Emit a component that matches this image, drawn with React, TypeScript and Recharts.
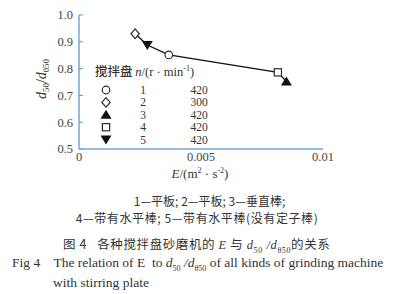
import { LineChart, Line, XAxis, YAxis } from "recharts";

const energy = [0.0023, 0.0028, 0.00368, 0.00815, 0.0085];
const ratio = [0.93, 0.888, 0.851, 0.786, 0.752];
const pointPlate = ["2", "5", "1", "4", "3"];

const xTicks = [0, 0.005, 0.01];
const yTicks = [0.5, 0.6, 0.7, 0.8, 0.9, 1.0];

const legendPlate = ["1", "2", "3", "4", "5"];
const legendSpeed = ["420", "300", "420", "420", "420"];

const data = energy.map((e, i) => ({ e, r: ratio[i], plate: pointPlate[i] }));

const axisBlue = "#6fa8d8";
const ink = "#2b2b2b";
const serif = "'Liberation Serif', 'Noto Sans CJK SC', serif";
const cjk = "'Noto Sans CJK SC', 'Liberation Serif', serif";

function Marker({ type, cx, cy }: { type: string; cx: number; cy: number }) {
  const sw = 1.2;
  if (type === "1") return <circle cx={cx} cy={cy} r={3.8} fill="#fff" stroke={ink} strokeWidth={sw} />;
  if (type === "2")
    return (
      <polygon
        points={`${cx},${cy - 4.8} ${cx + 4.2},${cy} ${cx},${cy + 4.8} ${cx - 4.2},${cy}`}
        fill="#fff"
        stroke={ink}
        strokeWidth={sw}
      />
    );
  if (type === "4") return <rect x={cx - 3.6} y={cy - 3.6} width={7.2} height={7.2} fill="#fff" stroke={ink} strokeWidth={sw} />;
  if (type === "3")
    return <polygon points={`${cx},${cy - 5} ${cx + 5.5},${cy + 4} ${cx - 5.5},${cy + 4}`} fill="#111" />;
  return <polygon points={`${cx - 5.5},${cy - 4} ${cx + 5.5},${cy - 4} ${cx},${cy + 5}`} fill="#111" />;
}

function PointDot(props: any) {
  const { cx, cy, payload } = props;
  return <Marker key={payload.plate} type={payload.plate} cx={cx} cy={cy} />;
}

function YTick(props: any) {
  const { y, payload } = props;
  return (
    <g>
      <line x1={79} x2={83} y1={y} y2={y} stroke={axisBlue} strokeWidth={1.2} />
      <text x={73} y={y} dy="0.35em" textAnchor="end" fontSize={12.5} fill="#444" fontFamily={serif}>
        {payload.value.toFixed(1)}
      </text>
    </g>
  );
}

const captionStyle = {
  position: "absolute",
  whiteSpace: "pre",
  color: "#333",
  lineHeight: 1,
} as const;

export default function App() {
  return (
    <div style={{ position: "absolute", left: 0, top: 0, width: 419, height: 294, background: "#fff", fontFamily: serif }}>
      <LineChart width={419} height={294} data={data} margin={{ top: 15, right: 96, bottom: 125, left: 0 }}>
        <XAxis
          type="number"
          dataKey="e"
          domain={[0, 0.01]}
          ticks={xTicks}
          tickFormatter={(v: number) => (v === 0 ? "0" : String(v))}
          tickLine={false}
          tickSize={0}
          tickMargin={3}
          height={20}
          axisLine={{ stroke: axisBlue, strokeWidth: 1.5 }}
          tick={{ fontSize: 12.5, fill: "#444", fontFamily: serif }}
        />
        <YAxis
          type="number"
          dataKey="r"
          domain={[0.5, 1.0]}
          ticks={yTicks}
          width={79}
          tickLine={false}
          axisLine={{ stroke: axisBlue, strokeWidth: 1.5 }}
          tick={<YTick />}
        />
        <Line
          dataKey="r"
          stroke="#111"
          strokeWidth={1.3}
          dot={<PointDot />}
          activeDot={false}
          isAnimationActive={false}
        />
      </LineChart>

      {/* y axis title */}
      <svg style={{ position: "absolute", left: 0, top: 0 }} width={419} height={294} pointerEvents="none">
        <text transform="translate(46 79) rotate(-90)" textAnchor="middle" fontSize={14} fill="#333" fontFamily={serif}>
          <tspan fontStyle="italic">d</tspan>
          <tspan fontSize={9} dy={3}>50</tspan>
          <tspan dy={-3}>/</tspan>
          <tspan fontStyle="italic">d</tspan>
          <tspan fontSize={9} dy={3}>θ50</tspan>
        </text>

        {/* legend inside plot */}
        <text x={95} y={76} fontSize={12.5} fill="#333" fontFamily={serif}>
          <tspan fontFamily={cjk} fontWeight={500}>搅拌盘 </tspan>
          <tspan fontStyle="italic">n</tspan>
          <tspan>/(r · min</tspan>
          <tspan fontSize={8} dy={-5}>-1</tspan>
          <tspan dy={5}>)</tspan>
        </text>
        {legendPlate.map((p, i) => {
          const y = 90 + i * 12.4;
          return (
            <g key={p}>
              <Marker type={p} cx={106} cy={y} />
              <text x={143} y={y} dy="0.35em" textAnchor="middle" fontSize={11.5} fill="#333" fontFamily={serif}>
                {p}
              </text>
              <text x={199} y={y} dy="0.35em" textAnchor="middle" fontSize={11.5} fill="#333" fontFamily={serif}>
                {legendSpeed[i]}
              </text>
            </g>
          );
        })}

        {/* x axis title */}
        <text x={200} y={178} textAnchor="middle" fontSize={13} fill="#333" fontFamily={serif}>
          <tspan fontStyle="italic">E</tspan>
          <tspan>/(m</tspan>
          <tspan fontSize={8} dy={-5}>2</tspan>
          <tspan dy={5}> · s</tspan>
          <tspan fontSize={8} dy={-5}>-2</tspan>
          <tspan dy={5}>)</tspan>
        </text>
      </svg>

      <div style={{ ...captionStyle, left: 0, width: 419, top: 195, textAlign: "center", fontSize: 12, fontFamily: cjk }}>
        1—平板; 2—平板; 3—垂直棒;
      </div>
      <div style={{ ...captionStyle, left: 0, width: 394, top: 212, textAlign: "center", fontSize: 12, fontFamily: cjk, letterSpacing: 0.6 }}>
        4—带有水平棒; 5—带有水平棒(没有定子棒)
      </div>
      <div style={{ ...captionStyle, left: 63, top: 238, fontSize: 12.5, fontFamily: cjk, letterSpacing: 0.6 }}>
        {"图 4   各种搅拌盘砂磨机的 "}
        <span style={{ fontFamily: serif, fontStyle: "italic" }}>E</span>
        {" 与 "}
        <span style={{ fontFamily: serif, fontStyle: "italic" }}>d</span>
        <sub style={{ fontFamily: serif, fontSize: 8 }}>50</sub>
        <span style={{ fontFamily: serif, fontStyle: "italic" }}> /d</span>
        <sub style={{ fontFamily: serif, fontSize: 8 }}>θ50</sub>
        的关系
      </div>
      <div style={{ ...captionStyle, left: 12, top: 256, fontSize: 13.5, fontFamily: serif }}>
        {"Fig 4    The relation of E  to "}
        <span style={{ fontStyle: "italic" }}>d</span>
        <sub style={{ fontSize: 8 }}>50</sub>
        <span style={{ fontStyle: "italic" }}> /d</span>
        <sub style={{ fontSize: 8 }}>θ50</sub>
        {" of all kinds of grinding machine"}
      </div>
      <div style={{ ...captionStyle, left: 53, top: 276, fontSize: 13.5, fontFamily: serif }}>with stirring plate</div>
    </div>
  );
}
